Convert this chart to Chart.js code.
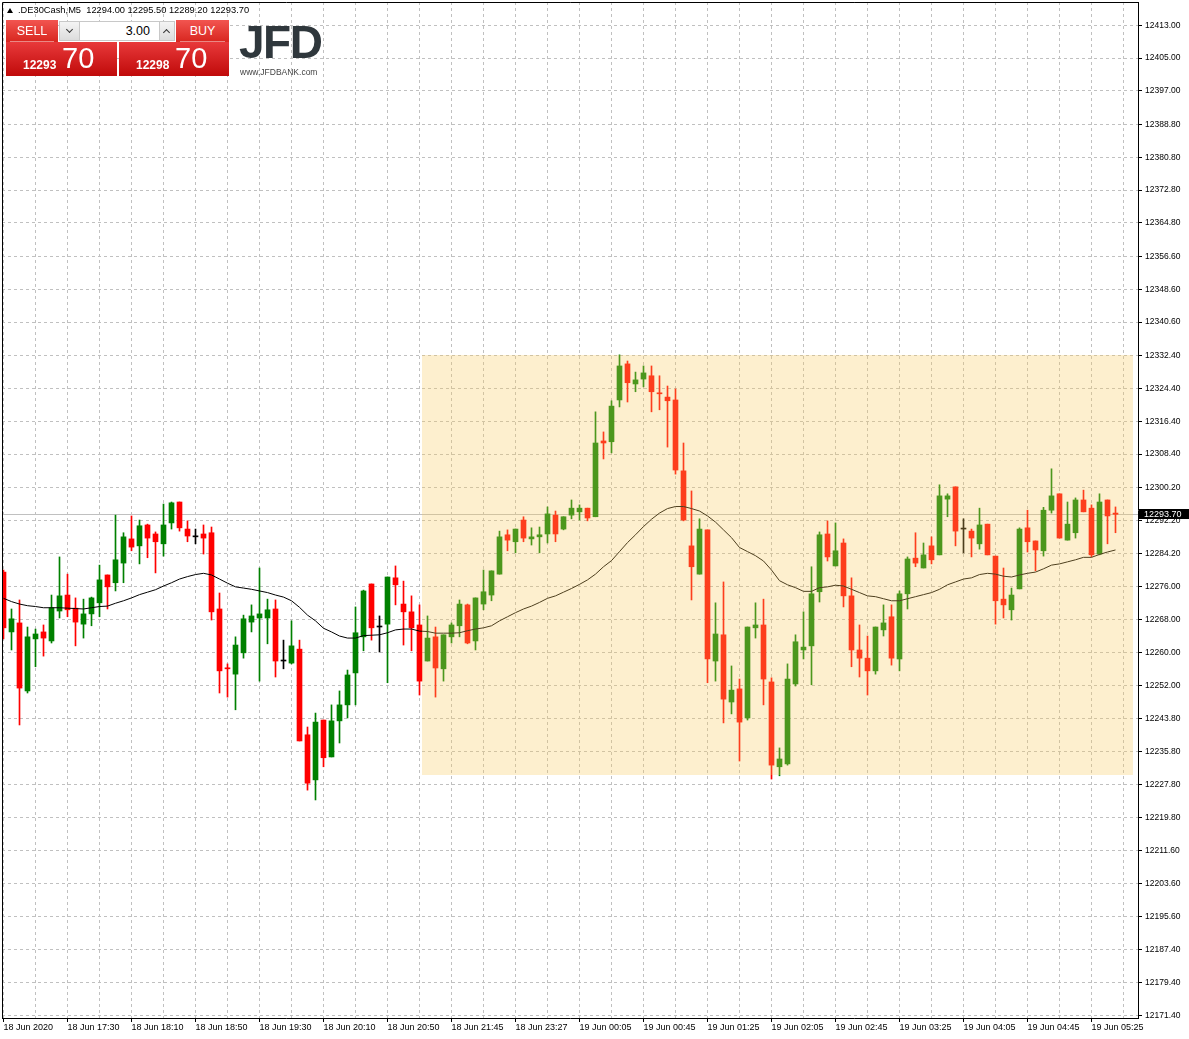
<!DOCTYPE html>
<html>
<head>
<meta charset="utf-8">
<script src="https://cdn.jsdelivr.net/npm/chart.js@4.4.0/dist/chart.umd.min.js"></script>
<style>
  html, body { margin: 0; padding: 0; background: #fff; }
  #wrap { position: relative; width: 1189px; height: 1039px; overflow: hidden; font-family: "Liberation Sans", Arial, sans-serif; }
  #chart { position: absolute; left: 0; top: 0; }
  .ov { position: absolute; line-height: 1; white-space: pre; }
  .tri { position: absolute; left: 7px; top: 8px; width: 0; height: 0; border-left: 3px solid transparent; border-right: 3px solid transparent; border-bottom: 5px solid #000; }
  .tab { position: absolute; top: 20px; height: 22px; background: linear-gradient(#f25550, #d8261f); color: #fff; font-size: 12.5px; text-align: center; line-height: 22px; }
  .tab::after { content: ""; position: absolute; left: 4px; right: 4px; bottom: 0; height: 1px; background: rgba(255,255,255,0.45); }
  .box { position: absolute; top: 42px; height: 34px; background: linear-gradient(#e8393a, #c00a0a); }
  .btn { position: absolute; top: 21px; height: 20px; background: linear-gradient(#f4f4f4, #dcdcdc); border: 1px solid #c8c8c8; box-sizing: border-box; }
  .chev { position: absolute; left: 50%; width: 4px; height: 4px; border-right: 1.5px solid #333; border-bottom: 1.5px solid #333; }
  .inp { position: absolute; left: 80px; top: 21px; width: 79px; height: 20px; background: #fff; border-top: 1px solid #c8c8c8; border-bottom: 1px solid #c8c8c8; box-sizing: border-box; font-size: 12.5px; text-align: right; padding-right: 9px; line-height: 18px; color: #000; }
  .small { color: #fff; font-size: 12px; font-weight: bold; }
  .big { color: #fff; font-size: 29px; }
</style>
</head>
<body>
<div id="wrap">
  <canvas id="chart" width="1189" height="1039"></canvas>

  <div class="tri"></div>
  <div class="ov" style="left:18px; top:5.8px; font-size:9.3px; color:#000;">.DE30Cash,M5  12294.00 12295.50 12289.20 12293.70</div>

  <div class="tab" style="left:6px; width:52px;">SELL</div>
  <div class="btn" style="left:59px; width:21px;"><span class="chev" style="top:5px; margin-left:-3px; transform: rotate(45deg);"></span></div>
  <div class="inp">3.00</div>
  <div class="btn" style="left:159px; width:16px;"><span class="chev" style="top:8px; margin-left:-3px; transform: rotate(-135deg);"></span></div>
  <div class="tab" style="left:176px; width:53px;">BUY</div>
  <div class="box" style="left:6px; width:111px;"></div>
  <div class="box" style="left:119px; width:110px;"></div>
  <div class="ov small" style="left:23px; top:59px;">12293</div>
  <div class="ov big" style="left:62px; top:43.5px;">70</div>
  <div class="ov small" style="left:136px; top:59px;">12298</div>
  <div class="ov big" style="left:175px; top:43.5px;">70</div>

  <div class="ov" style="left:239px; top:19px; font-size:46px; font-weight:bold; color:#2f373c; letter-spacing:-1.5px;">JFD</div>
  <div class="ov" style="left:240px; top:67.5px; font-size:8.5px; color:#444;">www.JFDBANK.com</div>
</div>

<script>
// Etiquetas del eje de tiempo (una cada 8 velas M5)
const timeLabels = ['18 Jun 2020', '18 Jun 17:30', '18 Jun 18:10', '18 Jun 18:50', '18 Jun 19:30',
  '18 Jun 20:10', '18 Jun 20:50', '18 Jun 21:45', '18 Jun 23:27', '19 Jun 00:05', '19 Jun 00:45',
  '19 Jun 01:25', '19 Jun 02:05', '19 Jun 02:45', '19 Jun 03:25', '19 Jun 04:05', '19 Jun 04:45',
  '19 Jun 05:25'];

// Etiquetas del eje de precios
const priceTicks = [12413.00, 12405.00, 12397.00, 12388.80, 12380.80, 12372.80, 12364.80, 12356.60,
  12348.60, 12340.60, 12332.40, 12324.40, 12316.40, 12308.40, 12300.20, 12292.20, 12284.20, 12276.00,
  12268.00, 12260.00, 12252.00, 12243.80, 12235.80, 12227.80, 12219.80, 12211.60, 12203.60, 12195.60,
  12187.40, 12179.40, 12171.40];

// Velas (apertura, máximo, mínimo, cierre)
const opens = [12279.6, 12265.0, 12267.2, 12250.6, 12263.3, 12265.0, 12262.8, 12270.1, 12274.0, 12270.8,
  12266.9, 12269.4, 12272.1, 12278.9, 12277.0, 12281.8, 12287.7, 12286.0, 12291.1, 12288.9,
  12286.5, 12291.6, 12296.7, 12290.1, 12288.2, 12288.9, 12289.2, 12270.6, 12256.2, 12254.7,
  12259.9, 12267.4, 12268.4, 12268.4, 12270.6, 12257.9, 12257.4, 12260.8, 12239.9, 12228.9,
  12243.5, 12234.5, 12243.3, 12247.2, 12255.0, 12263.8, 12276.7, 12266.2, 12266.9, 12278.2,
  12271.8, 12269.9, 12266.7, 12257.9, 12263.8, 12256.0, 12263.8, 12266.5, 12271.6, 12262.8,
  12271.8, 12274.0, 12279.1, 12288.7, 12287.0, 12292.3, 12287.7, 12288.2, 12288.9, 12293.5,
  12290.1, 12293.5, 12294.3, 12295.2, 12293.1, 12311.6, 12311.4, 12321.6, 12330.4, 12325.5,
  12326.7, 12327.5, 12323.3, 12322.3, 12321.6, 12304.3, 12286.0, 12279.1, 12289.9, 12257.9,
  12264.3, 12247.9, 12251.1, 12244.0, 12266.0, 12266.7, 12252.8, 12232.1, 12232.8, 12252.3,
  12260.6, 12261.6, 12274.8, 12288.9, 12281.1, 12286.7, 12273.8, 12260.6, 12258.6, 12255.5,
  12265.5, 12268.7, 12258.4, 12274.3, 12283.0, 12280.6, 12286.0, 12283.8, 12297.4, 12300.4,
  12290.1, 12289.6, 12286.5, 12291.3, 12283.5, 12273.0, 12270.4, 12275.5, 12290.4, 12287.2,
  12284.8, 12294.7, 12298.7, 12287.4, 12289.2, 12297.2, 12295.2, 12284.0, 12297.2, 12294.0];

const highs = [12280.1, 12270.6, 12272.8, 12266.2, 12265.7, 12266.7, 12274.0, 12283.3, 12279.1, 12273.3,
  12273.0, 12273.5, 12281.3, 12278.9, 12293.5, 12289.2, 12293.3, 12292.3, 12291.3, 12289.4,
  12296.2, 12296.7, 12296.7, 12292.1, 12290.1, 12291.1, 12290.6, 12274.5, 12257.2, 12263.8,
  12269.1, 12271.6, 12280.6, 12273.0, 12272.8, 12263.0, 12267.7, 12263.0, 12241.8, 12245.2,
  12243.5, 12247.2, 12250.6, 12255.7, 12271.1, 12275.2, 12276.7, 12268.9, 12278.4, 12281.1,
  12277.4, 12273.8, 12271.6, 12268.9, 12266.2, 12264.3, 12267.2, 12272.8, 12271.8, 12273.3,
  12280.1, 12279.9, 12289.6, 12289.9, 12290.1, 12293.1, 12290.4, 12290.6, 12295.5, 12294.5,
  12293.1, 12297.2, 12296.0, 12295.2, 12318.7, 12313.8, 12321.4, 12332.6, 12331.1, 12328.4,
  12329.9, 12329.9, 12327.5, 12325.0, 12324.3, 12311.1, 12299.4, 12292.6, 12289.9, 12272.1,
  12277.2, 12256.7, 12253.5, 12266.2, 12272.1, 12273.0, 12253.8, 12236.7, 12257.2, 12264.3,
  12269.9, 12280.9, 12289.4, 12292.1, 12291.6, 12287.7, 12278.2, 12266.7, 12264.0, 12266.2,
  12271.6, 12271.6, 12275.0, 12283.3, 12289.2, 12286.7, 12288.2, 12300.9, 12298.7, 12300.4,
  12292.6, 12290.1, 12295.2, 12291.3, 12283.5, 12280.6, 12275.7, 12290.4, 12294.7, 12287.2,
  12295.4, 12304.8, 12298.7, 12296.7, 12297.7, 12299.6, 12296.0, 12298.7, 12297.2, 12295.5];

const lows = [12263.3, 12260.6, 12242.3, 12250.1, 12256.5, 12259.1, 12262.3, 12268.4, 12268.7, 12261.6,
  12263.5, 12266.5, 12268.7, 12270.6, 12275.0, 12277.0, 12284.8, 12281.6, 12283.1, 12279.4,
  12283.5, 12290.1, 12289.6, 12287.0, 12286.5, 12284.0, 12267.9, 12250.1, 12249.1, 12246.0,
  12258.6, 12265.0, 12253.0, 12262.1, 12254.0, 12256.0, 12257.2, 12238.4, 12226.4, 12224.0,
  12232.1, 12234.5, 12237.9, 12244.0, 12247.2, 12260.4, 12263.0, 12260.1, 12252.6, 12271.6,
  12261.8, 12260.4, 12249.6, 12257.9, 12249.1, 12253.0, 12262.3, 12263.8, 12262.1, 12260.6,
  12270.4, 12272.6, 12279.1, 12284.8, 12284.3, 12287.0, 12286.2, 12284.3, 12286.7, 12287.0,
  12289.9, 12292.6, 12292.3, 12292.1, 12293.1, 12307.2, 12308.7, 12319.9, 12321.1, 12323.6,
  12324.8, 12318.7, 12319.2, 12310.1, 12303.5, 12292.1, 12272.8, 12279.1, 12252.6, 12253.0,
  12242.8, 12245.0, 12233.5, 12243.5, 12263.5, 12247.2, 12229.1, 12229.9, 12232.5, 12251.8,
  12258.4, 12252.1, 12272.3, 12282.3, 12281.1, 12271.1, 12256.5, 12254.0, 12249.6, 12254.7,
  12264.0, 12256.9, 12255.5, 12270.6, 12280.9, 12280.6, 12281.6, 12283.8, 12293.1, 12286.0,
  12284.3, 12283.3, 12285.2, 12283.8, 12266.9, 12268.4, 12267.9, 12275.5, 12284.5, 12279.9,
  12283.5, 12294.0, 12287.9, 12287.4, 12287.9, 12294.3, 12283.3, 12283.8, 12286.5, 12289.2];

const closes = [12266.0, 12268.2, 12251.3, 12263.8, 12264.5, 12263.5, 12270.9, 12273.8, 12270.4, 12267.4,
  12269.4, 12273.3, 12277.7, 12276.0, 12282.6, 12288.2, 12285.7, 12290.9, 12287.9, 12287.0,
  12291.1, 12296.5, 12290.4, 12288.4, 12288.2, 12287.9, 12269.9, 12255.5, 12256.0, 12261.8,
  12268.2, 12268.9, 12269.4, 12270.4, 12257.9, 12257.9, 12261.6, 12238.4, 12228.1, 12243.0,
  12234.3, 12243.3, 12247.2, 12254.5, 12264.8, 12275.0, 12266.0, 12266.2, 12278.4, 12276.5,
  12269.9, 12266.0, 12253.0, 12263.5, 12256.2, 12264.3, 12266.7, 12271.8, 12262.3, 12273.3,
  12274.8, 12279.9, 12288.2, 12287.4, 12290.1, 12287.9, 12288.2, 12288.7, 12293.8, 12288.9,
  12293.1, 12295.2, 12295.2, 12292.8, 12311.1, 12311.1, 12320.1, 12329.9, 12325.8, 12326.5,
  12328.2, 12323.6, 12323.1, 12321.4, 12304.5, 12292.3, 12280.9, 12290.1, 12258.4, 12264.5,
  12248.6, 12250.8, 12243.0, 12266.2, 12266.7, 12253.5, 12232.5, 12234.0, 12253.5, 12262.6,
  12261.3, 12274.3, 12288.7, 12283.3, 12284.8, 12273.8, 12260.6, 12258.6, 12255.5, 12266.2,
  12267.2, 12258.6, 12274.3, 12282.8, 12281.8, 12283.8, 12282.6, 12298.2, 12298.2, 12289.6,
  12290.1, 12287.9, 12291.1, 12283.8, 12272.6, 12271.6, 12274.0, 12290.1, 12287.0, 12285.0,
  12294.7, 12298.2, 12287.9, 12291.3, 12297.2, 12294.3, 12283.8, 12296.7, 12293.3, 12293.7];

// Media móvil (línea negra)
const ma = [12273.2, 12272.4, 12271.8, 12271.4, 12271.2, 12270.9, 12270.9, 12270.9, 12270.8, 12270.7,
  12270.6, 12270.9, 12271.2, 12271.3, 12272.0, 12272.6, 12273.3, 12274.1, 12274.7, 12275.3,
  12276.2, 12277.0, 12277.9, 12278.5, 12279.0, 12279.3, 12278.9, 12277.9, 12276.9, 12276.0,
  12275.7, 12275.4, 12275.0, 12274.6, 12274.0, 12273.5, 12272.6, 12271.0, 12269.1, 12267.7,
  12265.9, 12265.0, 12264.0, 12263.5, 12263.5, 12264.1, 12264.2, 12264.3, 12264.8, 12265.5,
  12265.7, 12265.7, 12265.2, 12265.1, 12264.7, 12264.7, 12264.7, 12264.8, 12265.3, 12265.7,
  12266.0, 12266.5, 12267.7, 12268.7, 12269.7, 12270.6, 12271.3, 12272.2, 12273.2, 12273.8,
  12274.7, 12275.6, 12276.6, 12277.7, 12279.1, 12280.9, 12282.4, 12284.6, 12286.8, 12288.7,
  12290.7, 12292.5, 12294.0, 12295.1, 12295.6, 12295.6, 12295.1, 12294.5, 12293.3, 12291.8,
  12289.9, 12288.0, 12285.6, 12284.6, 12283.6, 12282.3, 12280.1, 12277.5, 12276.5, 12275.8,
  12274.9, 12274.9, 12275.8, 12276.0, 12276.4, 12276.2, 12275.4, 12274.6, 12273.8, 12273.6,
  12273.1, 12272.6, 12272.6, 12273.1, 12273.6, 12274.1, 12274.6, 12275.4, 12276.5, 12277.2,
  12277.9, 12278.2, 12279.0, 12279.3, 12279.1, 12278.6, 12278.4, 12278.9, 12279.3, 12279.6,
  12280.4, 12281.3, 12281.6, 12282.1, 12282.6, 12283.2, 12283.2, 12283.9, 12284.5, 12285.0];

// Zona sombreada (en velas y precio)
const zoneBars = [52.35, 141.2];
const zonePrices = [12332.5, 12230.0];

const lastClose = closes[closes.length - 1];

const candleColors = opens.map((o, i) => closes[i] > o ? '#008000' : (closes[i] < o ? '#ff0000' : '#000000'));

// Línea del precio actual (detrás de las velas)
const priceLinePlugin = {
  id: 'priceLine',
  beforeDatasetsDraw(chart) {
    const { ctx, chartArea, scales } = chart;
    const y = Math.round(scales.y.getPixelForValue(lastClose)) + 0.5;
    ctx.save();
    ctx.strokeStyle = '#c0c0c0';
    ctx.lineWidth = 1;
    ctx.beginPath();
    ctx.moveTo(chartArea.left, y);
    ctx.lineTo(chartArea.right, y);
    ctx.stroke();
    ctx.restore();
  }
};

// Rectángulo semitransparente encima de las velas
const zonePlugin = {
  id: 'zone',
  afterDatasetsDraw(chart) {
    const { ctx, scales } = chart;
    const x1 = scales.x.getPixelForValue(zoneBars[0]);
    const x2 = scales.x.getPixelForValue(zoneBars[1]);
    const y1 = scales.y.getPixelForValue(zonePrices[0]);
    const y2 = scales.y.getPixelForValue(zonePrices[1]);
    ctx.save();
    ctx.fillStyle = 'rgba(248, 203, 95, 0.306)';
    ctx.fillRect(Math.round(x1), Math.round(y1), Math.round(x2 - x1), Math.round(y2 - y1));
    ctx.restore();
  }
};

// Marco superior/izquierdo y etiqueta del precio
const framePlugin = {
  id: 'frame',
  afterDraw(chart) {
    const { ctx, chartArea, scales } = chart;
    ctx.save();
    ctx.strokeStyle = '#000';
    ctx.lineWidth = 1;
    ctx.beginPath();
    ctx.moveTo(chartArea.left + 0.5, chartArea.bottom);
    ctx.lineTo(chartArea.left + 0.5, chartArea.top + 0.5);
    ctx.lineTo(chartArea.right, chartArea.top + 0.5);
    ctx.stroke();

    const y = Math.round(scales.y.getPixelForValue(lastClose));
    ctx.fillStyle = '#000';
    ctx.fillRect(chartArea.right + 1, y - 5, chart.width - chartArea.right - 1, 10);
    ctx.fillStyle = '#fff';
    ctx.font = '9px "Liberation Sans", Arial, sans-serif';
    ctx.textBaseline = 'middle';
    ctx.fillText(lastClose.toFixed(2), chartArea.right + 6, y + 0.5);
    ctx.restore();
  }
};

const ctx = document.getElementById('chart').getContext('2d');
const chart = new Chart(ctx, {
  type: 'bar',
  data: {
    datasets: [
      {
        type: 'line',
        label: 'MA',
        data: ma.map((v, i) => ({ x: i, y: v })),
        borderColor: '#000000',
        borderWidth: 1,
        pointRadius: 0,
        tension: 0,
        order: 0
      },
      {
        label: 'cuerpo',
        data: opens.map((o, i) => ({ x: i, y: [o, closes[i]] })),
        backgroundColor: candleColors,
        barThickness: 5,
        minBarLength: 1,
        grouped: false,
        order: 1
      },
      {
        label: 'mecha',
        data: lows.map((l, i) => ({ x: i, y: [l, highs[i]] })),
        backgroundColor: candleColors,
        barThickness: 1,
        grouped: false,
        order: 2
      }
    ]
  },
  options: {
    responsive: false,
    animation: false,
    devicePixelRatio: 1,
    layout: { padding: { left: 2, top: 2, right: 0, bottom: 0 } },
    plugins: { legend: { display: false }, tooltip: { enabled: false } },
    scales: {
      x: {
        type: 'linear',
        offset: false,
        min: -0.1875,
        max: 141.8125,
        afterBuildTicks: (scale) => {
          const t = [];
          for (let v = 0; v <= 140; v += 4) t.push({ value: v });
          scale.ticks = t;
        },
        afterFit: (scale) => {
          scale.height = 21;
          scale.paddingLeft = 0;
          scale.paddingRight = 0;
        },
        grid: {
          offset: false,
          color: '#c0c0c0',
          lineWidth: 1,
          tickLength: 4,
          tickColor: (c) => (c.tick && c.tick.value % 8 === 0) ? '#000000' : 'rgba(0,0,0,0)'
        },
        border: { display: true, color: '#000000', width: 1, dash: [3, 3] },
        ticks: {
          autoSkip: false,
          maxRotation: 0,
          minRotation: 0,
          align: 'start',
          padding: 0,
          color: '#000000',
          font: { family: '"Liberation Sans", Arial, sans-serif', size: 9 },
          callback: (v) => (v % 8 === 0 ? timeLabels[v / 8] : '')
        }
      },
      y: {
        type: 'linear',
        position: 'right',
        min: 12170.8,
        max: 12418.7,
        afterBuildTicks: (scale) => {
          scale.ticks = priceTicks.map(v => ({ value: v }));
        },
        afterFit: (scale) => {
          scale.width = 51;
          scale.paddingTop = 0;
          scale.paddingBottom = 0;
        },
        grid: {
          color: '#c0c0c0',
          lineWidth: 1,
          tickLength: 4,
          tickColor: '#000000'
        },
        border: { display: true, color: '#000000', width: 1, dash: [3, 3] },
        ticks: {
          padding: 3,
          color: '#000000',
          font: { family: '"Liberation Sans", Arial, sans-serif', size: 8.5 },
          callback: (v) => Number(v).toFixed(2)
        }
      }
    }
  },
  plugins: [priceLinePlugin, zonePlugin, framePlugin]
});
</script>
</body>
</html>
